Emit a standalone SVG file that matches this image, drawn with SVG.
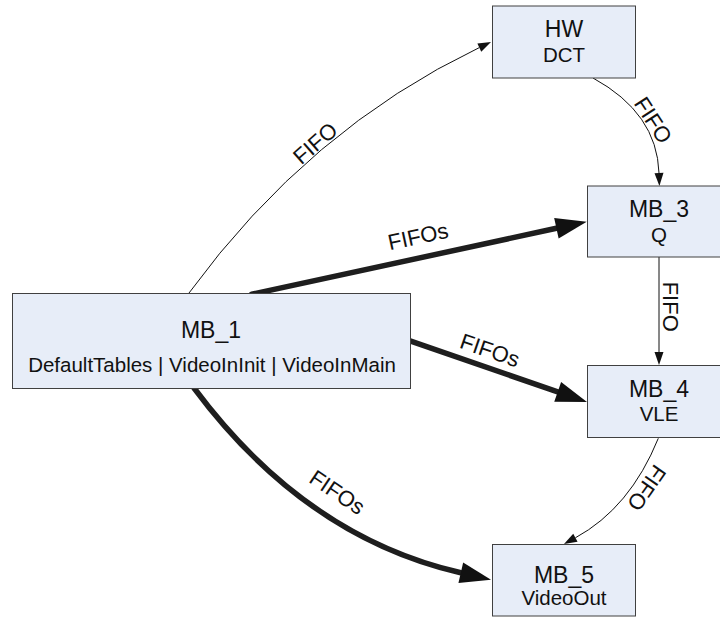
<svg xmlns="http://www.w3.org/2000/svg" width="720" height="617" viewBox="0 0 720 617">
<defs>
<style>
.box{fill:#E7EDF8;stroke:#404040;stroke-width:1}
.t1{font-family:"Liberation Sans",Arial,sans-serif;font-size:23px;fill:#111;text-anchor:middle}
.t2{font-family:"Liberation Sans",Arial,sans-serif;font-size:20.5px;fill:#111;text-anchor:middle}
.lbl{font-family:"Liberation Sans",Arial,sans-serif;font-size:22px;fill:#111;text-anchor:middle}
.thin{fill:none;stroke:#111;stroke-width:1}
.thick{fill:none;stroke:#1e1e1e;stroke-width:5.5;stroke-linecap:round}
</style>
<marker id="ah" markerUnits="userSpaceOnUse" markerWidth="14" markerHeight="10" refX="0" refY="4.5" orient="auto" overflow="visible">
<path d="M0,0 L13,4.5 L0,9 z" fill="#111"/>
</marker>
<marker id="ahb" markerUnits="userSpaceOnUse" markerWidth="32" markerHeight="22" refX="0" refY="10.5" orient="auto" overflow="visible">
<path d="M0,0 L31,10.5 L0,21 z" fill="#111"/>
</marker>
</defs>
<g id="edges">
<path class="thin" d="M189,293 Q309,129 479.3,47.6" marker-end="url(#ah)"/>
<path class="thick" d="M251.7,294.3 L556.4,228.3" marker-end="url(#ahb)"/>
<path class="thick" d="M409.3,340.7 L557.7,391.9" marker-end="url(#ahb)"/>
<path class="thick" d="M194,388 Q305,537 460.8,572.8" marker-end="url(#ahb)"/>
<path class="thin" d="M593,78 Q657,113 659,173" marker-end="url(#ah)"/>
<path class="thin" d="M659,257 L659,352" marker-end="url(#ah)"/>
<path class="thin" d="M658.3,438.3 Q630,508 575.4,537.8" marker-end="url(#ah)"/>
<g transform="translate(315,143) rotate(-41)"><text class="lbl" x="0" y="8">FIFO</text></g>
<g transform="translate(418,236) rotate(-12.2)"><text class="lbl" x="0" y="8">FIFOs</text></g>
<g transform="translate(490,350) rotate(19)"><text class="lbl" x="0" y="8">FIFOs</text></g>
<g transform="translate(337.5,492) rotate(34)"><text class="lbl" x="0" y="8">FIFOs</text></g>
<g transform="translate(653.5,120) rotate(57)"><text class="lbl" x="0" y="8">FIFO</text></g>
<g transform="translate(671.3,306.7) rotate(90)"><text class="lbl" x="0" y="8">FIFO</text></g>
<g transform="translate(647,488) rotate(125)"><text class="lbl" x="0" y="8">FIFO</text></g>
</g>
<g id="HW">
<rect class="box" x="492.5" y="6" width="143" height="72"/>
<text class="t1" x="564" y="37">HW</text>
<text class="t2" x="564" y="62">DCT</text>
</g>
<g id="MB_3">
<rect class="box" x="587.5" y="186" width="143" height="71"/>
<text class="t1" x="659" y="217">MB_3</text>
<text class="t2" x="659" y="242">Q</text>
</g>
<g id="MB_1">
<rect class="box" x="12.5" y="293.5" width="398" height="95"/>
<text class="t1" x="211" y="338">MB_1</text>
<text class="t2" x="212" y="371.5">DefaultTables | VideoInInit | VideoInMain</text>
</g>
<g id="MB_4">
<rect class="box" x="587.5" y="365.5" width="143" height="72"/>
<text class="t1" x="659" y="396.5">MB_4</text>
<text class="t2" x="659" y="421">VLE</text>
</g>
<g id="MB_5">
<rect class="box" x="492.5" y="544.5" width="143" height="71.5"/>
<text class="t1" x="564" y="583">MB_5</text>
<text class="t2" x="564" y="605">VideoOut</text>
</g>
</svg>
